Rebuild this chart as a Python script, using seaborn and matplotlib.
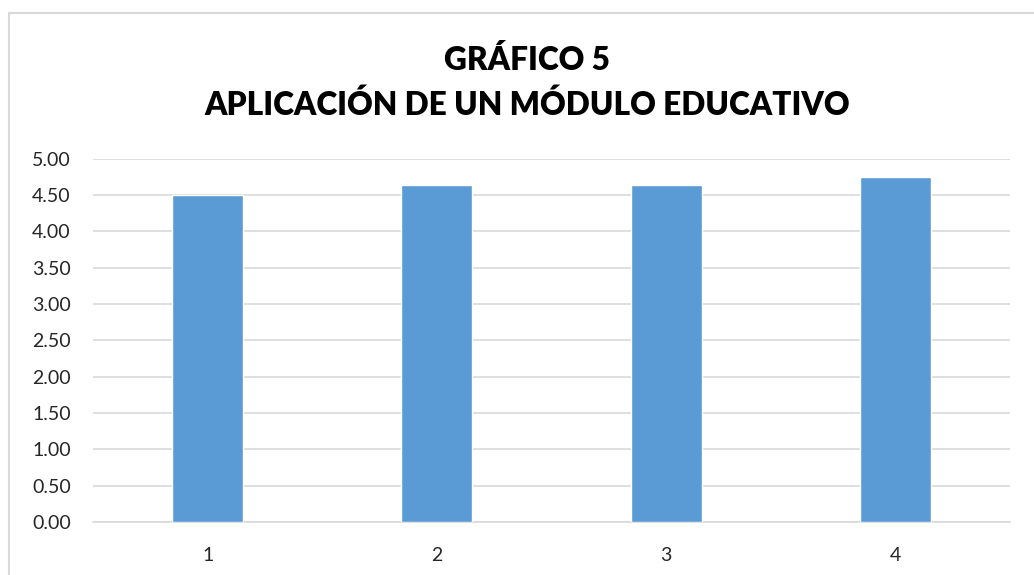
import matplotlib.pyplot as plt
import pandas as pd
import seaborn as sns
from matplotlib.patches import Rectangle

# datos
categorias = ["1", "2", "3", "4"]
valores = [4.50, 4.63, 4.64, 4.74]
ticks_y = [0.0, 0.5, 1.0, 1.5, 2.0, 2.5, 3.0, 3.5, 4.0, 4.5, 5.0]
titulo = "GRÁFICO 5\nAPLICACIÓN DE UN MÓDULO EDUCATIVO"

df = pd.DataFrame({"categoria": categorias, "valor": valores})

sns.set_style("white")
plt.rcParams["font.family"] = ["Lato", "DejaVu Sans"]

fig = plt.figure(figsize=(10.34, 5.75), dpi=100)
ax = fig.add_axes([0.0899, 0.0922, 0.8871, 0.6321])

sns.barplot(data=df, x="categoria", y="valor", color="#5B9BD5", saturation=1,
            width=0.31, ax=ax, zorder=3)

ax.set_ylim(0, 5)
ax.set_xlim(-0.5, 3.5)
ax.set_yticks(ticks_y)
ax.set_yticklabels([f"{t:.2f}" for t in ticks_y])
ax.grid(axis="y", color="#D9D9D9", linewidth=1.2, zorder=0)
ax.set_axisbelow(True)
for side in ["top", "right", "left"]:
    ax.spines[side].set_visible(False)
ax.spines["bottom"].set_color("#D9D9D9")
ax.spines["bottom"].set_linewidth(1.2)
ax.tick_params(axis="both", length=0, labelsize=14, colors="#262626")
ax.tick_params(axis="y", pad=16)
ax.tick_params(axis="x", pad=18)
ax.set_xlabel("")
ax.set_ylabel("")

fig.text(0.51, 0.8565, titulo, ha="center", va="center", fontsize=22.8,
         fontweight="heavy", color="black", linespacing=1.55)

# borde del area del grafico
fig.patches.append(Rectangle((9 / 1034, -0.01), 1.1, (575 - 13) / 575 + 0.01,
                             transform=fig.transFigure, fill=False,
                             edgecolor="#D9D9D9", linewidth=1.5))

fig.savefig("out.png", dpi=100)
